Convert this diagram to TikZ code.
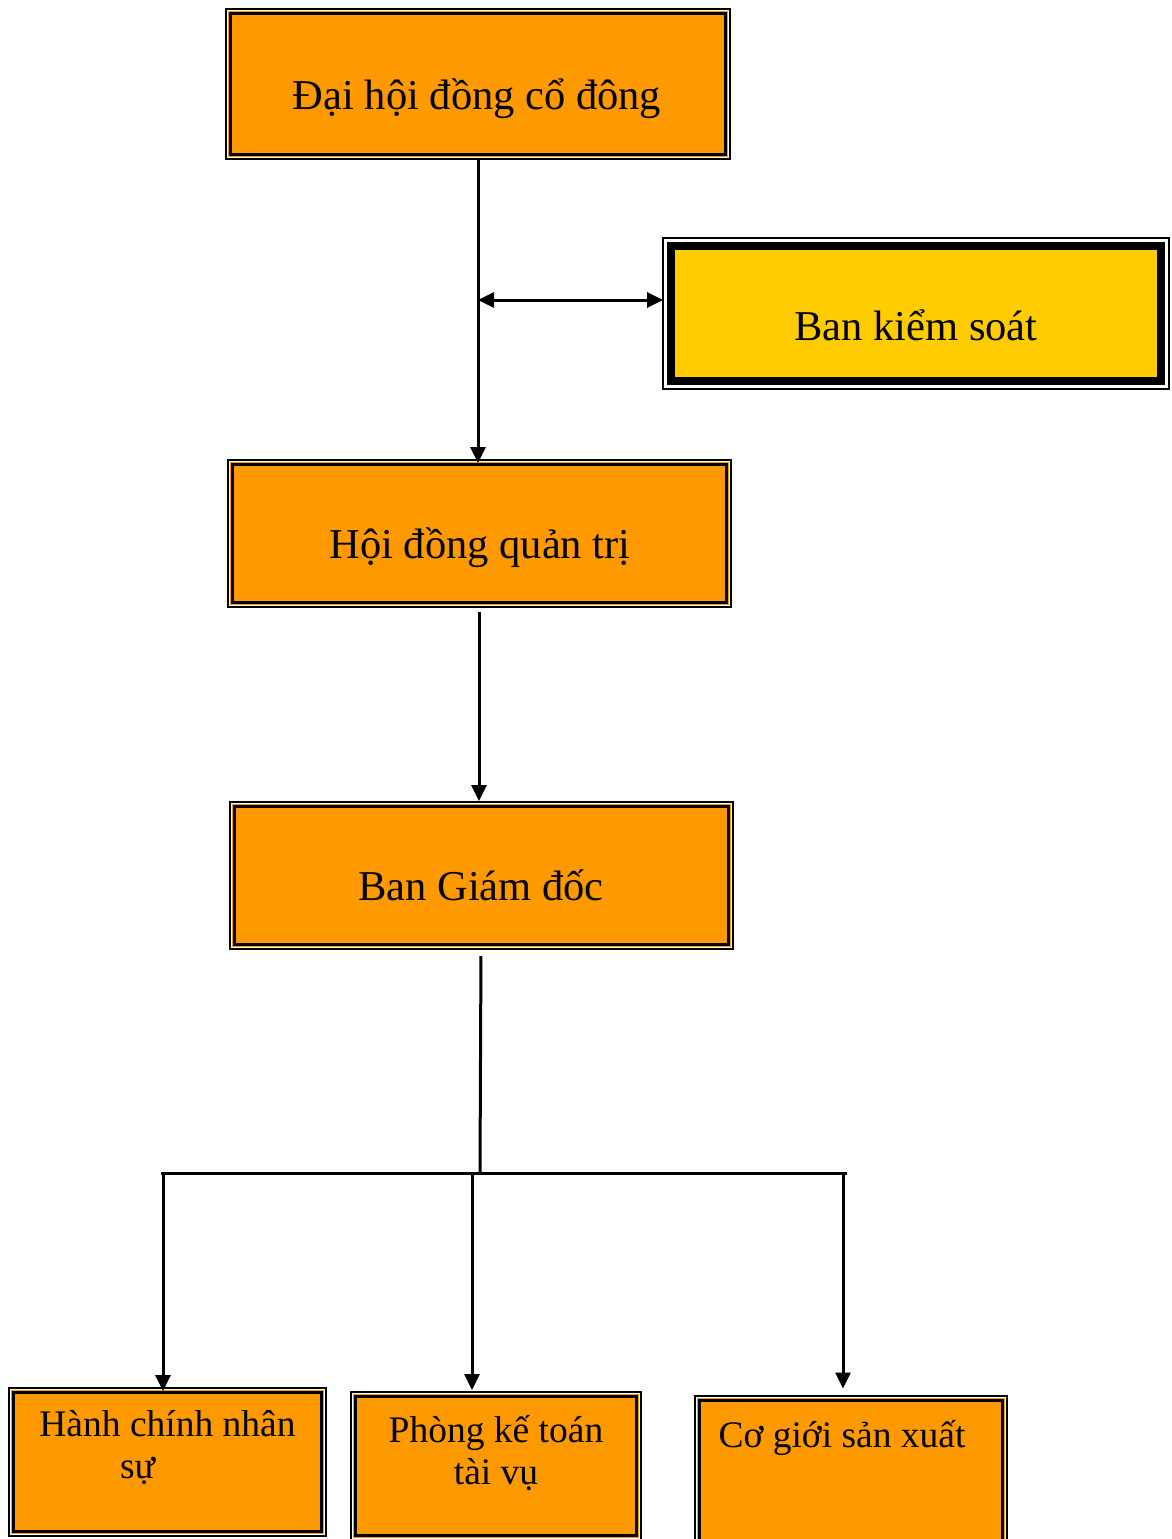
\documentclass[tikz,border=0pt]{standalone}
\usepackage{fontspec}
\setmainfont{Liberation Serif}
\usetikzlibrary{arrows.meta}
\definecolor{boxorange}{HTML}{FF9900}
\definecolor{boxyellow}{HTML}{FFCC00}
\begin{document}
\begin{tikzpicture}[x=1pt,y=-1pt,
  obox/.style={rectangle, inner sep=0pt, fill=boxorange, draw=black, line width=3pt,
    preaction={draw=black, line width=11pt},
    preaction={draw=white, line width=7pt},
    preaction={draw=boxorange, line width=5pt}},
  ybox/.style={rectangle, inner sep=0pt, fill=boxyellow, draw=black, line width=8pt,
    preaction={draw=black, line width=18pt},
    preaction={draw=white, line width=14pt}},
  bigtxt/.style={anchor=base, inner sep=0pt, font=\fontsize{42.5}{50}\selectfont},
  smalltxt/.style={anchor=base, inner sep=0pt, align=center, font=\fontsize{37.5}{42}\selectfont},
  conn/.style={line width=3pt, draw=black},
  tip/.tip={Triangle[length=16pt,width=15pt]},
  arr/.style={conn, -tip},
  darr/.style={conn, tip-tip}
]
\useasboundingbox (0,0) rectangle (1171,1539);
\clip (0,0) rectangle (1171,1539);
\fill[white] (0,0) rectangle (1171,1539);

% boxes
\node[obox, minimum width=495pt, minimum height=141pt] (dh) at (478,84) {};
\node[ybox, minimum width=490pt, minimum height=135pt] (bks) at (916,313.5) {};
\node[obox, minimum width=494pt, minimum height=138pt] (hd) at (479,533.5) {};
\node[obox, minimum width=494pt, minimum height=138pt] (bgd) at (481,875.5) {};
\node[obox, minimum width=308pt, minimum height=139pt] (hc) at (167.5,1462) {};
\node[obox, minimum width=281pt, minimum height=139pt] (pk) at (496,1466) {};
\node[obox, minimum width=303pt, minimum height=146pt] (cg) at (851,1473) {};

% texts (anchor=base of a two-line node is the baseline of its last line)
\node[bigtxt] (dht) at (477,109) {Đại hội đồng cổ đông};
\node[bigtxt] (bkst) at (916,340) {Ban kiểm soát};
\node[bigtxt] (hdt) at (480,558) {Hội đồng quản trị};
\node[bigtxt] (bgdt) at (481,900) {Ban Giám đốc};
\node[smalltxt] (hct) at (167.5,1478) {Hành chính nhân\\\hspace*{-60pt}sự};
\node[smalltxt] (pkt) at (496,1484) {Phòng kế toán\\tài vụ};
\node[smalltxt] (cgt) at (842,1447) {Cơ giới sản xuất};

% connectors
\coordinate (j1) at (478,300);
\coordinate (j2) at (480,1173);
\coordinate (hl) at (161,1173);
\coordinate (hr) at (847,1173);
\coordinate (d1) at (163,1173);
\coordinate (d2) at (472,1173);
\coordinate (d3) at (843,1173);

\draw[arr, shorten <=3pt] (dh.south) -- (dh.south |- hd.north);
\draw[darr, shorten >=4pt] (j1) -- (j1 -| bks.west);
\draw[arr, shorten <=8pt, shorten >=4pt] (hd.south) -- (hd.south |- bgd.north);
\draw[conn, shorten <=10pt] (bgd.south) -- (j2);
\draw[conn] (hl) -- (hr);
\draw[arr] (d1) -- (d1 |- hc.north);
\draw[arr, shorten >=5pt] (d2) -- (d2 |- pk.north);
\draw[arr, shorten >=10pt] (d3) -- (d3 |- cg.north);
\end{tikzpicture}
\end{document}
